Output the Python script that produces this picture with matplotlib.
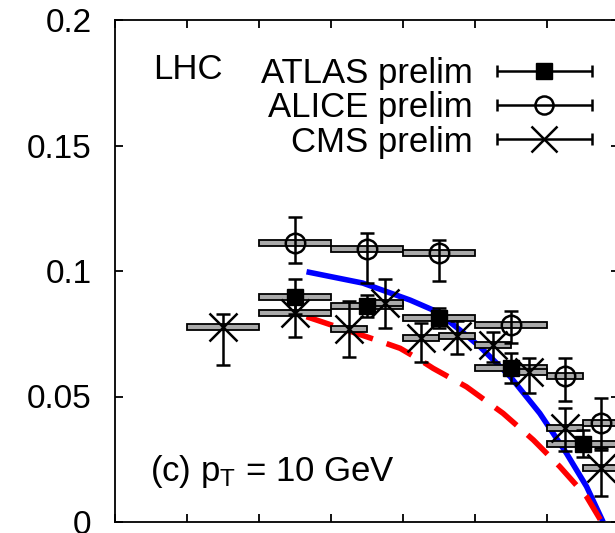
import numpy as np
import matplotlib
matplotlib.use("Agg")
import matplotlib.pyplot as plt
from matplotlib.lines import Line2D
from matplotlib.collections import LineCollection
from matplotlib.container import ErrorbarContainer
from matplotlib.legend_handler import HandlerErrorbar

plt.rcParams['font.family'] = ['Liberation Sans', 'DejaVu Sans']
plt.rcParams['mathtext.fontset'] = 'custom'
plt.rcParams['mathtext.rm'] = 'Liberation Sans'
plt.rcParams['mathtext.it'] = 'Liberation Sans:italic'

# ATLAS prelim: bin edges, value, stat errors (down, up)
atlas_lo = np.array([2.0, 3.0, 4.0, 5.0, 6.0])
atlas_hi = np.array([3.0, 4.0, 5.0, 6.0, 7.0])
atlas_y = np.array([0.0898, 0.0861, 0.0812, 0.0612, 0.0310])
atlas_dn = np.array([0.0070, 0.0045, 0.0040, 0.0060, 0.0050])
atlas_up = np.array([0.0070, 0.0045, 0.0040, 0.0060, 0.0057])

# ALICE prelim
alice_lo = np.array([2.0, 3.0, 4.0, 5.0, 6.0, 6.5])
alice_hi = np.array([3.0, 4.0, 5.0, 6.0, 6.5, 7.0])
alice_y = np.array([0.1110, 0.1086, 0.1070, 0.0785, 0.0582, 0.0393])
alice_dn = np.array([0.0080, 0.0135, 0.0110, 0.0073, 0.0100, 0.0107])
alice_up = np.array([0.0104, 0.0064, 0.0053, 0.0057, 0.0070, 0.0100])

# CMS prelim
cms_lo = np.array([1.0, 2.0, 3.0, 3.5, 4.0, 4.5, 5.0, 5.5, 6.0, 6.5])
cms_hi = np.array([2.0, 3.0, 3.5, 4.0, 4.5, 5.0, 5.5, 6.0, 6.5, 7.0])
cms_y = np.array([0.0778, 0.0834, 0.0769, 0.0871, 0.0732, 0.0741, 0.0705,
                  0.0599, 0.0373, 0.0214])
cms_dn = np.array([0.0152, 0.0096, 0.0110, 0.0098, 0.0093, 0.0070, 0.0067,
                   0.0086, 0.0090, 0.0109])
cms_up = np.array([0.0050, 0.0090, 0.0110, 0.0098, 0.0060, 0.0060, 0.0053,
                   0.0054, 0.0080, 0.0082])

sys_half = 0.0012  # half height of grey systematic boxes

# model curves
blue_x = np.array([2.66, 3.44, 4.10, 4.47, 4.79, 5.07, 5.49, 5.90, 6.27,
                   6.55, 6.78])
blue_y = np.array([0.0997, 0.0952, 0.0884, 0.0838, 0.0765, 0.0698, 0.0579,
                   0.0433, 0.0274, 0.0141, 0.0])
red_x = np.array([2.66, 3.63, 3.96, 4.24, 4.42, 4.88, 5.39, 5.81, 6.18,
                  6.55, 6.76])
red_y = np.array([0.0818, 0.0725, 0.0692, 0.0645, 0.0612, 0.0539, 0.0433,
                  0.0327, 0.0220, 0.0101, 0.0])

yticks = [0, 0.05, 0.1, 0.15, 0.2]
ytick_labels = ['0', '0.05', '0.1', '0.15', '0.2']

fig = plt.figure(figsize=(6.15, 5.33), dpi=100)
ax = fig.add_axes([115/615, 11/533, 504/615, 502/533])

ax.plot(blue_x, blue_y, color='#0000ff', lw=4, solid_capstyle='butt', zorder=2)
ax.plot(red_x, red_y, color='#ff0000', lw=4, dashes=(5, 2.6),
        dash_capstyle='butt', zorder=2)

def boxes(lo, hi, y):
    ax.bar((lo + hi) / 2, 2 * sys_half, bottom=y - sys_half, width=hi - lo,
           color='#aaaaaa', edgecolor='black', linewidth=1.3, zorder=3)

boxes(atlas_lo, atlas_hi, atlas_y)
boxes(alice_lo, alice_hi, alice_y)
boxes(cms_lo, cms_hi, cms_y)

eb = dict(color='black', ecolor='black', elinewidth=1.8, capsize=5,
          capthick=1.8, linestyle='none', zorder=4)
ax.errorbar((atlas_lo + atlas_hi) / 2, atlas_y, yerr=[atlas_dn, atlas_up],
            fmt='s', ms=12, **eb)
ax.errorbar((alice_lo + alice_hi) / 2, alice_y, yerr=[alice_dn, alice_up],
            fmt='o', ms=14, mfc='none', mec='black', mew=1.8, **eb)
ax.errorbar((cms_lo + cms_hi) / 2, cms_y, yerr=[cms_dn, cms_up],
            fmt='x', ms=20, mew=1.8, **eb)

# legend proxies with horizontal bars, like gnuplot xerrorbars
def proxy(marker, label, **kw):
    line = Line2D([], [], marker=marker, color='black', linestyle='none', **kw)
    cap = Line2D([], [], marker='|', color='black', markersize=9, mew=1.8)
    bar = LineCollection([], colors='black', linewidths=1.8)
    return ErrorbarContainer((line, (cap,), (bar,)), has_xerr=True,
                             has_yerr=False, label=label)

handles = [proxy('s', 'ATLAS prelim', ms=12),
           proxy('o', 'ALICE prelim', ms=13, mfc='none', mew=1.8),
           proxy('x', 'CMS prelim', ms=19, mew=1.8)]
ax.legend(handles=handles, loc='upper right', bbox_to_anchor=(0.946, 0.926),
          frameon=False, markerfirst=False, numpoints=1, fontsize=25,
          handlelength=2.74, handletextpad=0.69, labelspacing=0.035,
          borderpad=0, borderaxespad=0,
          handler_map={ErrorbarContainer: HandlerErrorbar(xerr_size=1.37)})

ax.text(0.075, 0.902, 'LHC', transform=ax.transAxes, fontsize=25,
        ha='left', va='center')
ax.text(0.0694, 0.082, r'(c) p$_\mathrm{T}$ = 10 GeV', transform=ax.transAxes,
        fontsize=25, ha='left', va='baseline')

ax.set_xlim(0, 7)
ax.set_ylim(0, 0.2)
ax.set_xticks(np.arange(0, 8))
ax.set_xticklabels([])
ax.set_yticks(yticks, ytick_labels)
ax.tick_params(direction='in', length=6, width=1.3, top=True, right=True,
               labelsize=24, pad=17)
for s in ax.spines.values():
    s.set_linewidth(1.3)

fig.savefig('out.png', dpi=100)
